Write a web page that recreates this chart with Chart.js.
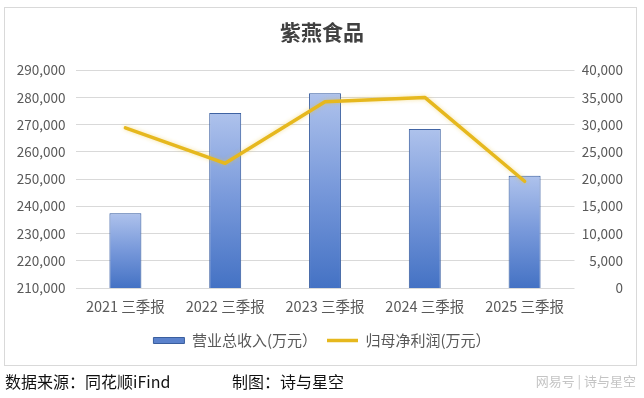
<!DOCTYPE html>
<html>
<head>
<meta charset="utf-8">
<script src="https://cdn.jsdelivr.net/npm/chart.js@4.4.0/dist/chart.umd.min.js"></script>
<style>
  html, body { margin: 0; padding: 0; background: #fff; }
  #wrap { position: relative; width: 644px; height: 398px; overflow: hidden; }
  #frame { position: absolute; left: 4px; top: 7px; width: 633px; height: 359px; border: 1px solid #D9D9D9; box-sizing: border-box; }
  canvas { position: absolute; left: 0; top: 0; }
  .foot { position: absolute; top: 370px; font-family: "Noto Sans CJK SC", sans-serif; font-size: 16px; color: #111; line-height: 22px; white-space: pre; }
  .mark { position: absolute; top: 372px; right: 8px; font-family: "Noto Sans CJK SC", sans-serif; font-size: 13px; color: #c4c4c4; line-height: 18px; }
</style>
</head>
<body>
<div id="wrap">
  <div id="frame"></div>
  <canvas id="c" width="644" height="398"></canvas>
  <div class="foot" style="left:5px;">数据来源：同花顺iFind</div>
  <div class="foot" style="left:232px;">制图：诗与星空</div>
  <div class="mark">网易号 | 诗与星空</div>
</div>
<script>
const categories = ['2021 三季报', '2022 三季报', '2023 三季报', '2024 三季报', '2025 三季报'];
const revenue = [237500, 274300, 281500, 268400, 251200];   // 营业总收入(万元)
const netProfit = [29400, 22900, 34200, 35000, 19600];      // 归母净利润(万元)
const leftTicks = [210000, 220000, 230000, 240000, 250000, 260000, 270000, 280000, 290000];
const rightTicks = [0, 5000, 10000, 15000, 20000, 25000, 30000, 35000, 40000];

const fmt = v => Number(v).toLocaleString('en-US');
const TICK = '#595959';
const FONT = '"Noto Sans CJK SC", "Noto Sans", sans-serif';

function barFill(ctx) {
  const chart = ctx.chart;
  const area = chart.chartArea;
  if (!area || ctx.type !== 'data') return '#6A8DD3';
  const y = chart.scales.y.getPixelForValue(ctx.raw);
  const g = chart.ctx.createLinearGradient(0, y, 0, area.bottom);
  g.addColorStop(0, '#AEC2EC');
  g.addColorStop(0.5, '#7798DA');
  g.addColorStop(1, '#4472C4');
  return g;
}

const glow = {
  id: 'glow',
  beforeDatasetDraw(chart, args) {
    const c = chart.ctx;
    c.save();
    if (args.index === 1) {
      c.shadowColor = 'rgba(235,190,40,0.45)';
      c.shadowBlur = 4;
    } else {
      c.shadowColor = 'rgba(120,150,210,0.35)';
      c.shadowBlur = 3;
    }
  },
  afterDatasetDraw(chart) { chart.ctx.restore(); }
};

new Chart(document.getElementById('c'), {
  data: {
    labels: categories,
    datasets: [
      {
        type: 'bar',
        label: '营业总收入(万元）',
        data: revenue,
        yAxisID: 'y',
        backgroundColor: barFill,
        borderColor: '#3A5E9E',
        borderWidth: 1,
        borderSkipped: false,
        barPercentage: 0.8,
        categoryPercentage: 0.4,
        order: 2
      },
      {
        type: 'line',
        label: '归母净利润(万元）',
        data: netProfit,
        yAxisID: 'y1',
        borderColor: '#E6B81E',
        backgroundColor: '#E6B81E',
        borderWidth: 3.5,
        pointRadius: 0,
        pointHoverRadius: 0,
        tension: 0,
        borderJoinStyle: 'round',
        borderCapStyle: 'round',
        order: 1
      }
    ]
  },
  options: {
    responsive: false,
    animation: false,
    devicePixelRatio: 1,
    layout: { padding: { left: 0, right: 0, top: 0, bottom: 40 } },
    plugins: {
      tooltip: { enabled: false },
      title: {
        display: true,
        text: '紫燕食品',
        color: '#404040',
        font: { family: FONT, size: 21, weight: 'bold' },
        padding: { top: 19, bottom: 26 }
      },
      legend: {
        position: 'bottom',
        labels: {
          color: TICK,
          font: { family: FONT, size: 15 },
          usePointStyle: true,
          pointStyleWidth: 31,
          boxHeight: 6,
          padding: 10,
          generateLabels(chart) {
            return chart.data.datasets.map((ds, i) => ({
              text: ds.label,
              fillStyle: i === 0 ? '#5B82CC' : '#E6B81E',
              strokeStyle: i === 0 ? '#3A5E9E' : '#E6B81E',
              lineWidth: i === 0 ? 1 : 3.5,
              pointStyle: i === 0 ? 'rect' : 'line',
              fontColor: TICK,
              datasetIndex: i,
              hidden: false
            }));
          }
        }
      }
    },
    scales: {
      x: {
        grid: { display: false, drawTicks: false },
        border: { display: false },
        ticks: { color: TICK, font: { family: FONT, size: 14.5 }, padding: 10, maxRotation: 0 },
        afterFit(s) { s.height = 35; }
      },
      y: {
        position: 'left',
        min: 210000, max: 290000,
        afterBuildTicks(s) { s.ticks = leftTicks.map(v => ({ value: v })); },
        grid: { color: '#D9D9D9', drawTicks: false, lineWidth: 1 },
        border: { display: false },
        ticks: { color: TICK, font: { family: FONT, size: 13.5 }, padding: 10, callback: v => fmt(v) },
        afterFit(s) { s.width = 75.5; }
      },
      y1: {
        position: 'right',
        min: 0, max: 40000,
        afterBuildTicks(s) { s.ticks = rightTicks.map(v => ({ value: v })); },
        grid: { display: false, drawTicks: false },
        border: { display: false },
        ticks: { color: TICK, font: { family: FONT, size: 13.5 }, mirror: true, padding: 48.5, callback: v => fmt(v) },
        afterFit(s) { s.width = 69.5; }
      }
    }
  },
  plugins: [glow]
});
</script>
</body>
</html>
